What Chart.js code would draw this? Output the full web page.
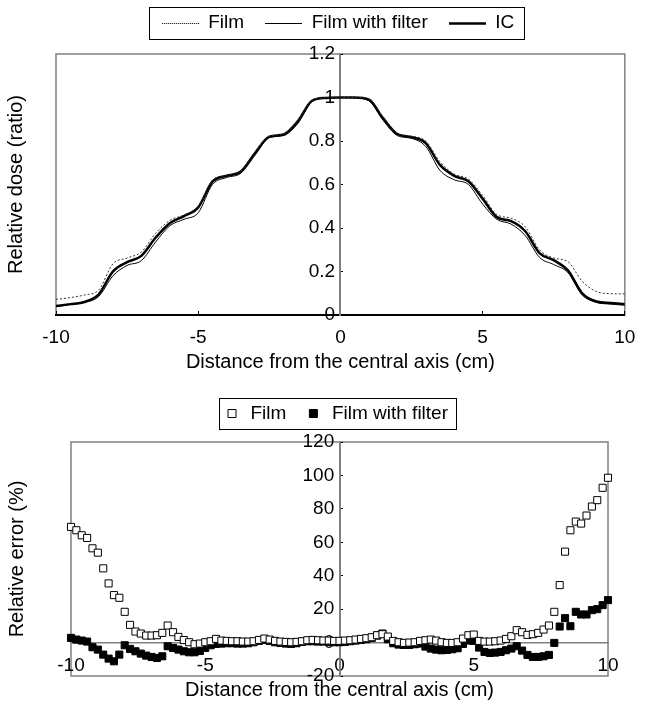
<!DOCTYPE html>
<html>
<head>
<meta charset="utf-8">
<script src="https://cdn.jsdelivr.net/npm/chart.js@4.4.1/dist/chart.umd.min.js"></script>
<style>
  html, body { margin: 0; padding: 0; background: #fff; }
  .box { position: absolute; left: 0; width: 651px; }
  #top { top: 0; height: 374px; }
  #bottom { top: 374px; height: 338px; }
</style>
</head>
<body>
<div class="box" id="top"><canvas id="profileChart"></canvas></div>
<div class="box" id="bottom"><canvas id="errorChart"></canvas></div>
<script>
// ---data---

var profileX = [-10, -9.5, -9, -8.5, -8, -7.5, -7, -6.5, -6, -5.5, -5, -4.5, -4, -3.5, -3, -2.5, -2, -1.5, -1, -0.5,
  0, 0.5, 1, 1.5, 2, 2.5, 3, 3.5, 4, 4.5, 5, 5.5, 6, 6.5, 7, 7.5, 8, 8.5, 9, 9.5, 10];
var profileFilm = [0.072, 0.080, 0.092, 0.115, 0.235, 0.262, 0.290, 0.375, 0.435, 0.460, 0.500, 0.620, 0.642, 0.662, 0.750, 0.822, 0.832, 0.892, 0.985, 0.998,
  1.0, 1.0, 0.995, 0.910, 0.835, 0.822, 0.800, 0.705, 0.648, 0.625, 0.550, 0.462, 0.445, 0.405, 0.300, 0.262, 0.245, 0.155, 0.108, 0.098, 0.097];
var profileFilmFilter = [0.040, 0.048, 0.058, 0.085, 0.180, 0.228, 0.250, 0.335, 0.410, 0.440, 0.470, 0.600, 0.632, 0.652, 0.735, 0.815, 0.825, 0.880, 0.980, 0.997,
  1.0, 0.998, 0.985, 0.895, 0.825, 0.812, 0.775, 0.665, 0.622, 0.600, 0.510, 0.440, 0.418, 0.365, 0.265, 0.232, 0.195, 0.092, 0.058, 0.050, 0.045];
var profileIC = [0.041, 0.050, 0.060, 0.095, 0.200, 0.243, 0.272, 0.355, 0.422, 0.455, 0.495, 0.613, 0.640, 0.660, 0.745, 0.820, 0.830, 0.890, 0.985, 0.998,
  1.0, 1.0, 0.990, 0.905, 0.832, 0.818, 0.790, 0.690, 0.640, 0.615, 0.535, 0.450, 0.432, 0.385, 0.285, 0.252, 0.205, 0.100, 0.062, 0.055, 0.050];

var errorX = [-10, -9.8, -9.6, -9.4, -9.2, -9, -8.8, -8.6, -8.4, -8.2,
  -8, -7.8, -7.6, -7.4, -7.2, -7, -6.8, -6.6, -6.4, -6.2,
  -6, -5.8, -5.6, -5.4, -5.2, -5, -4.8, -4.6, -4.4, -4.2,
  -4, -3.8, -3.6, -3.4, -3.2, -3, -2.8, -2.6, -2.4, -2.2,
  -2, -1.8, -1.6, -1.4, -1.2, -1, -0.8, -0.6, -0.4, -0.2,
  0, 0.2, 0.4, 0.6, 0.8, 1, 1.2, 1.4, 1.6, 1.8,
  2, 2.2, 2.4, 2.6, 2.8, 3, 3.2, 3.4, 3.6, 3.8,
  4, 4.2, 4.4, 4.6, 4.8, 5, 5.2, 5.4, 5.6, 5.8,
  6, 6.2, 6.4, 6.6, 6.8, 7, 7.2, 7.4, 7.6, 7.8,
  8, 8.2, 8.4, 8.6, 8.8, 9, 9.2, 9.4, 9.6, 9.8,
  10];
var errorFilm = [69.2, 67.2, 64.2, 62.6, 56.4, 53.8, 44.4, 35.4, 28.4, 26.8,
  18.4, 10.6, 6.6, 5.4, 4.2, 4.2, 4.4, 5.8, 10.2, 6.2,
  3.4, 1.5, 0.2, -1.0, -0.6, 0.2, 0.8, 2.2, 1.2, 1.0,
  0.8, 0.8, 0.6, 0.6, 0.8, 1.6, 2.4, 1.8, 1.0, 0.6,
  0.4, 0.2, 0.4, 0.8, 1.4, 1.6, 1.4, 1.2, 1.2, 1.0,
  1.0, 1.2, 1.4, 1.8, 2.2, 2.6, 3.2, 4.4, 5.0, 3.6,
  1.0, 0.2, -0.2, 0.0, 0.2, 1.0, 1.4, 1.8, 1.2, 0.2,
  -0.2, -0.2, 0.2, 2.4, 4.4, 4.8, 1.0, 0.6, 0.6, 0.8,
  1.2, 2.2, 3.8, 7.4, 6.2, 4.6, 5.0, 5.8, 7.8, 10.2,
  18.4, 34.4, 54.4, 67.2, 72.4, 71.2, 76.0, 81.4, 85.2, 92.6,
  98.6];
var errorFilmFilter = [2.8, 1.8, 1.2, 0.6, -2.8, -4.2, -7.2, -9.6, -11.2, -7.2,
  -1.6, -3.8, -5.2, -6.6, -7.8, -8.6, -9.2, -8.2, -2.2, -3.2,
  -4.2, -5.2, -5.8, -5.8, -5.0, -3.2, -1.6, -0.8, -0.6, -0.4,
  -0.4, -0.6, -0.6, -0.4, 0.2, 1.0, 1.6, 1.0, 0.2, -0.2,
  -0.6, -0.8, -0.4, 0.4, 0.8, 0.8, 0.6, 0.6, 0.4, 0.2,
  0.2, 0.4, 0.8, 1.2, 1.6, 2.0, 2.8, 4.2, 5.4, 2.0,
  -0.4, -1.2, -1.4, -1.4, -1.0, -0.6, -2.4, -3.6, -4.2, -4.6,
  -4.4, -4.0, -3.4, -0.8, 1.2, 1.0, -3.0, -5.6, -6.2, -6.0,
  -5.6, -4.6, -3.6, -2.2, -4.8, -7.4, -8.6, -8.6, -8.2, -7.4,
  -0.2, 9.6, 14.6, 9.8, 18.4, 16.8, 16.8, 19.4, 20.0, 22.4,
  25.4];

function toPoints(xs, ys) {
  return xs.map(function (x, i) {
    return { x: x, y: ys[i] };
  });
}

// little line pictures for the legend keys
function lineSample(lineWidth, dash) {
  var c = document.createElement("canvas");
  c.width = 37;
  c.height = 8;
  var g = c.getContext("2d");
  g.strokeStyle = "#000";
  g.lineWidth = lineWidth;
  g.setLineDash(dash);
  g.beginPath();
  g.moveTo(0, 4.5);
  g.lineTo(37, 4.5);
  g.stroke();
  return c;
}

// tick labels a little away from the axis line
function tickText(v) {
  return String(Math.round(v * 10) / 10) + " ";
}

Chart.defaults.font.family = '"Liberation Sans", Arial, sans-serif';
Chart.defaults.color = "#000";

// ---plugins---

// grey frame round the plot area
var plotFrame = {
  id: "plotFrame",
  beforeDraw: function (chart) {
    var a = chart.chartArea;
    var ctx = chart.ctx;
    ctx.save();
    ctx.strokeStyle = "#808080";
    ctx.lineWidth = 1.5;
    ctx.strokeRect(a.left, a.top, a.right - a.left, a.bottom - a.top);
    ctx.restore();
  },
};

// move the legend a bit and put a box round it
var legendBox = {
  id: "legendBox",
  afterLayout: function (chart, args, opts) {
    var lg = chart.legend;
    lg.left += opts.dx;
    lg.right += opts.dx;
    lg.top += opts.dy;
    lg.bottom += opts.dy;
  },
  afterDraw: function (chart, args, opts) {
    var hb = chart.legend.legendHitBoxes;
    if (!hb || !hb.length) return;
    var first = hb[0];
    var last = hb[hb.length - 1];
    var x1 = first.left - opts.padLeft;
    var x2 = last.left + last.width + opts.padRight;
    var cy = first.top + first.height / 2;
    var ctx = chart.ctx;
    ctx.save();
    ctx.strokeStyle = "#000";
    ctx.lineWidth = 1;
    ctx.strokeRect(Math.round(x1) + 0.5, Math.round(cy - opts.half) + 0.5, Math.round(x2 - x1), Math.round(opts.half * 2));
    ctx.restore();
  },
};

// ---profile chart---

var ctxP = document.getElementById("profileChart");
var profileChart = new Chart(ctxP, {
  type: "line",
  data: {
    datasets: [
      {
        label: "Film",
        data: toPoints(profileX, profileFilm),
        borderColor: "#333",
        borderWidth: 1,
        borderDash: [2, 2],
        pointRadius: 0,
        pointStyle: lineSample(1, [1, 1]),
        cubicInterpolationMode: "monotone",
        fill: false,
        xAxisID: "x",
        yAxisID: "y",
      },
      {
        label: "Film with filter",
        data: toPoints(profileX, profileFilmFilter),
        borderColor: "#000",
        borderWidth: 1,
        pointRadius: 0,
        pointStyle: lineSample(1, []),
        cubicInterpolationMode: "monotone",
        fill: false,
        xAxisID: "x",
        yAxisID: "y",
      },
      {
        label: "IC",
        data: toPoints(profileX, profileIC),
        borderColor: "#000",
        borderWidth: 2.5,
        pointRadius: 0,
        pointStyle: lineSample(2.5, []),
        cubicInterpolationMode: "monotone",
        fill: false,
        xAxisID: "x",
        yAxisID: "y",
      },
    ],
  },
  options: {
    responsive: true,
    maintainAspectRatio: false,
    animation: false,
    events: [],
    layout: { padding: { top: 4, right: 25, bottom: 0, left: 0 } },
    plugins: {
      legend: {
        position: "top",
        labels: { usePointStyle: true, pointStyleWidth: 37, padding: 21, color: "#000", font: { size: 19 } },
      },
      tooltip: { enabled: false },
      legendBox: { dx: 25, dy: -11.5, padLeft: 13, padRight: 10, half: 16 },
    },
    scales: {
      x: {
        type: "linear",
        position: "bottom",
        min: -10,
        max: 10,
        ticks: { stepSize: 5, padding: 15.6, color: "#000", font: { size: 19 } },
        grid: { display: true, drawOnChartArea: false, drawTicks: true, tickLength: -4, color: "#000" },
        border: { display: true, color: "#000", width: 2 },
        title: {
          display: true,
          text: "Distance from the central axis (cm)",
          color: "#000",
          font: { size: 20 },
          padding: { top: -15, bottom: 0 },
        },
      },
      y: {
        type: "linear",
        position: { x: 0 },
        min: 0,
        max: 1.2,
        ticks: { stepSize: 0.2, color: "#000", font: { size: 19 }, callback: tickText },
        grid: { display: true, drawOnChartArea: false, drawTicks: true, tickLength: -4, color: "#000" },
        border: { display: true, color: "#808080", width: 2 },
      },
      yTitle: {
        type: "linear",
        position: "left",
        ticks: { display: false },
        grid: { display: false, drawTicks: false },
        border: { display: false },
        title: {
          display: true,
          text: "Relative dose (ratio)",
          color: "#000",
          font: { size: 20 },
          padding: { top: 4, bottom: 28 },
        },
      },
    },
  },
  plugins: [plotFrame, legendBox],
});

// ---error chart---

var ctxE = document.getElementById("errorChart");
var errorChart = new Chart(ctxE, {
  type: "scatter",
  data: {
    datasets: [
      {
        label: "Film",
        data: toPoints(errorX, errorFilm),
        pointStyle: "rect",
        pointRadius: 5,
        backgroundColor: "#fff",
        borderColor: "#000",
        borderWidth: 1,
        clip: false,
        xAxisID: "x",
        yAxisID: "y",
      },
      {
        label: "Film with filter",
        data: toPoints(errorX, errorFilmFilter),
        pointStyle: "rect",
        pointRadius: 5,
        backgroundColor: "#000",
        borderColor: "#000",
        borderWidth: 1,
        clip: false,
        xAxisID: "x",
        yAxisID: "y",
      },
    ],
  },
  options: {
    responsive: true,
    maintainAspectRatio: false,
    animation: false,
    events: [],
    layout: { padding: { top: 21, right: 43, bottom: 0, left: 0 } },
    plugins: {
      legend: {
        position: "top",
        labels: { usePointStyle: true, boxWidth: 18, boxHeight: 8, padding: 18, color: "#000", font: { size: 19 } },
      },
      tooltip: { enabled: false },
      legendBox: { dx: 31.5, dy: -9, padLeft: 4, padRight: 8, half: 15.5 },
    },
    scales: {
      x: {
        type: "linear",
        position: { y: 0 },
        min: -10,
        max: 10,
        ticks: { stepSize: 5, padding: 11.6, color: "#000", font: { size: 19 } },
        grid: { display: false, drawTicks: false },
        border: { display: true, color: "#808080", width: 1.5 },
      },
      y: {
        type: "linear",
        position: { x: 0 },
        min: -20,
        max: 120,
        ticks: { stepSize: 20, color: "#000", font: { size: 19 }, callback: tickText },
        grid: { display: true, drawOnChartArea: false, drawTicks: true, tickLength: -4, color: "#000" },
        border: { display: true, color: "#808080", width: 2 },
      },
      xTitle: {
        type: "linear",
        position: "bottom",
        ticks: { display: false },
        grid: { display: false, drawTicks: false },
        border: { display: false },
        title: {
          display: true,
          text: "Distance from the central axis (cm)",
          color: "#000",
          font: { size: 20 },
          padding: { top: 2, bottom: 10 },
        },
      },
      yTitle: {
        type: "linear",
        position: "left",
        ticks: { display: false },
        grid: { display: false, drawTicks: false },
        border: { display: false },
        title: {
          display: true,
          text: "Relative error (%)",
          color: "#000",
          font: { size: 20 },
          padding: { top: 5, bottom: 42 },
        },
      },
    },
  },
  plugins: [plotFrame, legendBox],
});
</script>
</body>
</html>
